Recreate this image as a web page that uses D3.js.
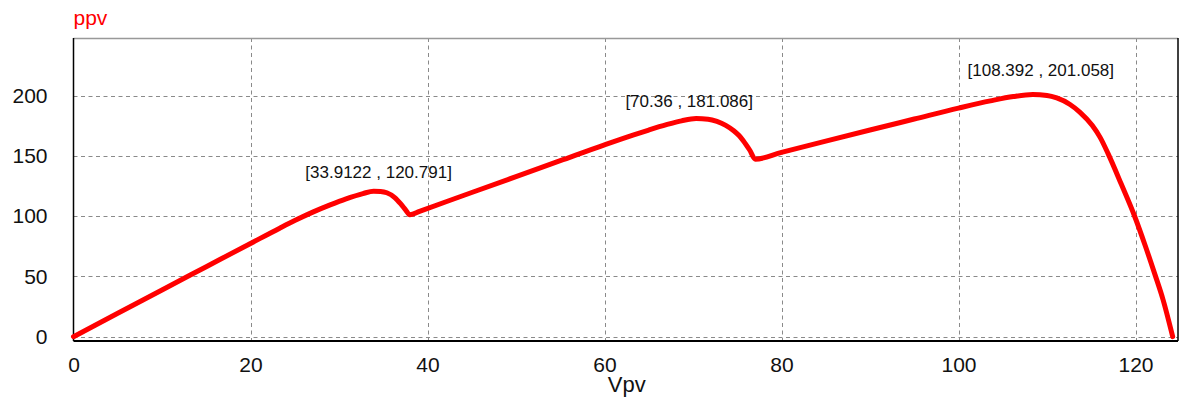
<!DOCTYPE html>
<html>
<head>
<meta charset="utf-8">
<script src="https://cdn.jsdelivr.net/npm/d3@7"></script>
<style>
  html, body { margin: 0; padding: 0; background: #fff; }
  svg { display: block; }
</style>
</head>
<body>
<svg id="chart" width="1181" height="403"></svg>
<script>
// ---- data ----
const voltage = [
  0, 5, 10, 15, 20, 23.3, 25, 27.1, 29, 30.8, 32.7, 33.9122, 34.7, 35.4, 36.3, 37, 37.5, 38,
  39.1, 45, 50, 55, 60, 63.3, 65, 67, 68.7, 70.36, 71.7, 72.7, 73.7, 74.6, 75.2, 75.7, 76.4, 77.05,
  80, 85, 90, 95, 100, 103.6, 106.2, 108.392, 110, 111.1, 112.6, 113.7, 115.1, 116, 116.9, 118.4, 119.9, 121.1, 122.2, 123.1, 124.2
];
const power = [
  0, 19.4, 38.8, 58.1, 77.4, 90.1, 96.4, 103.6, 109.4, 114.4, 118.8, 120.791, 120.6, 119.5, 115.5, 110, 105.5, 101.2,
  104.1, 119.7, 132.9, 146.1, 159.3, 167.6, 171.6, 176, 179.2, 181.086, 180.6, 178.8, 175.5, 171, 167, 162.5, 155, 147.4,
  153.0, 162.4, 171.6, 180.7, 189.8, 195.8, 199.4, 201.058, 200.3, 198.2, 192.8, 186.5, 175.5, 165.5, 152, 126.5, 100, 75.5, 51.5, 31, 0
];
const xTicks = [0, 20, 40, 60, 80, 100, 120];
const yTicks = [0, 50, 100, 150, 200];
const peakV = [33.9122, 70.36, 108.392];
const peakP = [120.791, 181.086, 201.058];
const peakLabels = ["[33.9122 , 120.791]", "[70.36 , 181.086]", "[108.392 , 201.058]"];
const xTitle = "Vpv";
const yTitle = "ppv";

// ---- layout ----
const pLeft = 73.5, pRight = 1178, pTop = 38, pBottom = 341;
const svg = d3.select("#chart");
const x = d3.scaleLinear().domain([0, 124.8]).range([pLeft, pRight]);
const y = d3.scaleLinear().domain([-3.6, 248]).range([pBottom, pTop]);

const font = "'Liberation Sans', Arial, sans-serif";

// grid
const grid = svg.append("g").attr("stroke", "#8a8a8a").attr("stroke-width", 1)
  .attr("stroke-dasharray", "4,3.5").attr("fill", "none");
xTicks.filter(d => d > 0).forEach(d => {
  grid.append("line").attr("x1", Math.round(x(d)) + 0.5).attr("x2", Math.round(x(d)) + 0.5)
    .attr("y1", pTop).attr("y2", pBottom);
});
yTicks.forEach(d => {
  grid.append("line").attr("y1", Math.round(y(d)) + 0.5).attr("y2", Math.round(y(d)) + 0.5)
    .attr("x1", pLeft).attr("x2", pRight);
});

// axes (labels only, using d3 axis generators)
const xAxis = svg.append("g").attr("transform", `translate(0,${pBottom})`)
  .call(d3.axisBottom(x).tickValues(xTicks).tickSize(0).tickPadding(16).tickFormat(d3.format("d")));
xAxis.select(".domain").remove();
xAxis.selectAll("text").attr("font-family", font).attr("font-size", 21).attr("fill", "#111");

const yAxis = svg.append("g").attr("transform", `translate(${pLeft},0)`)
  .call(d3.axisLeft(y).tickValues(yTicks).tickSize(0).tickPadding(26).tickFormat(d3.format("d")));
yAxis.select(".domain").remove();
yAxis.selectAll("text").attr("font-family", font).attr("font-size", 21).attr("fill", "#111");

// frame
svg.append("line").attr("x1", pLeft).attr("x2", pRight).attr("y1", pTop + 0.5).attr("y2", pTop + 0.5)
  .attr("stroke", "#999").attr("stroke-width", 1.5);
svg.append("line").attr("x1", pRight).attr("x2", pRight).attr("y1", pTop).attr("y2", pBottom)
  .attr("stroke", "#000").attr("stroke-width", 1.5);
svg.append("line").attr("x1", pLeft).attr("x2", pLeft).attr("y1", pTop).attr("y2", pBottom)
  .attr("stroke", "#000").attr("stroke-width", 1.5);
svg.append("line").attr("x1", pLeft).attr("x2", pRight).attr("y1", pBottom).attr("y2", pBottom)
  .attr("stroke", "#000").attr("stroke-width", 2);

// curve
const pts = voltage.map((v, i) => [v, power[i]]);
svg.append("path").datum(pts)
  .attr("fill", "none").attr("stroke", "#ff0000").attr("stroke-width", 5)
  .attr("stroke-linejoin", "round").attr("stroke-linecap", "round")
  .attr("d", d3.line().x(d => x(d[0])).y(d => y(d[1])).curve(d3.curveMonotoneX));

// peak annotations
const annDx = [5, -7, 8];
const annDy = [-13, -12, -19];
peakLabels.forEach((t, i) => {
  svg.append("text").attr("x", x(peakV[i]) + annDx[i]).attr("y", y(peakP[i]) + annDy[i])
    .attr("text-anchor", "middle").attr("font-family", font).attr("font-size", 17)
    .attr("fill", "#111").text(t);
});

// titles
svg.append("text").attr("x", (pLeft + pRight) / 2 + 1).attr("y", 392).attr("text-anchor", "middle")
  .attr("font-family", font).attr("font-size", 22).attr("fill", "#111").text(xTitle);
svg.append("text").attr("x", pLeft).attr("y", 25)
  .attr("font-family", font).attr("font-size", 21).attr("fill", "#ff0000").text(yTitle);
</script>
</body>
</html>
